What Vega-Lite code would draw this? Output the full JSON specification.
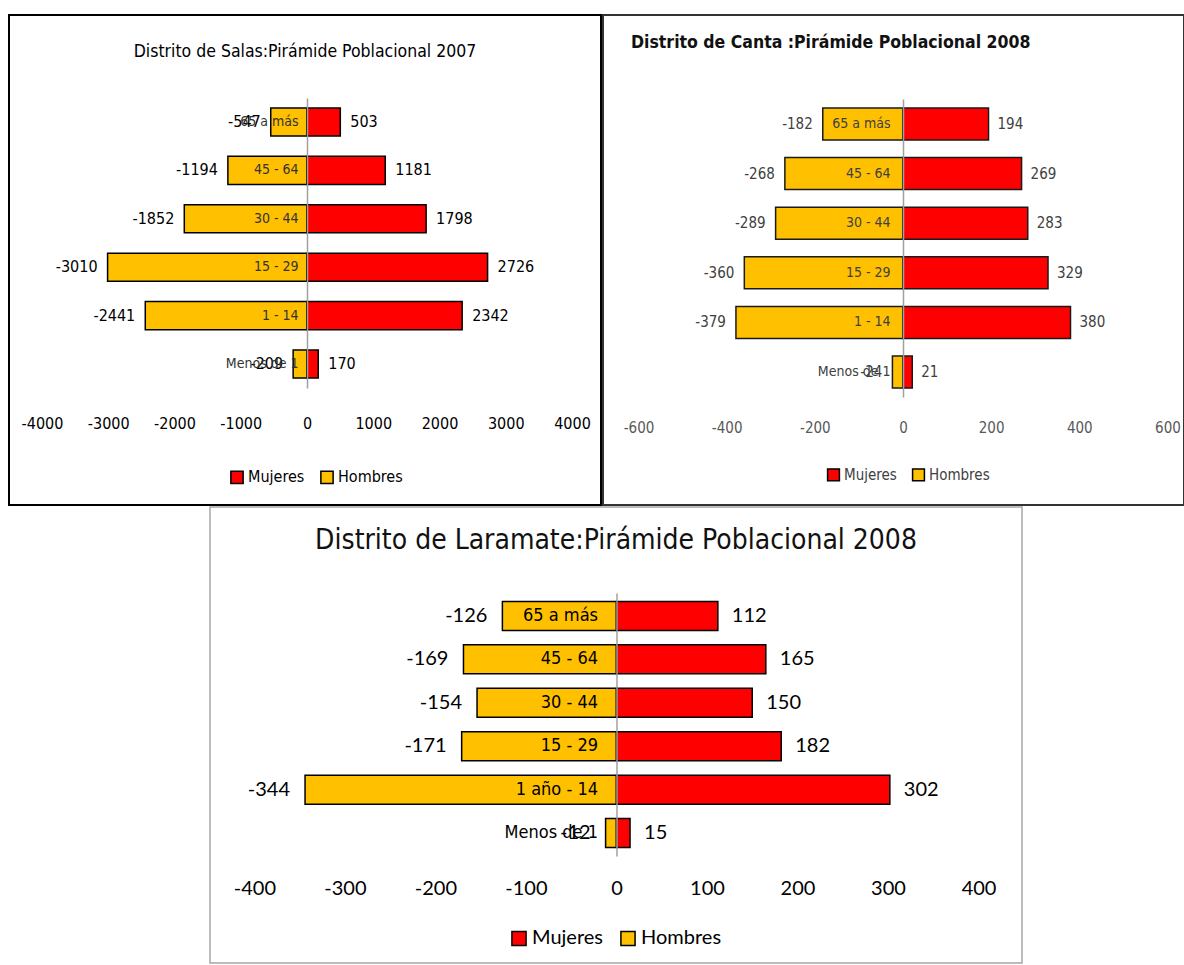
{
  "$schema": "https://vega.github.io/schema/vega-lite/v6.json",
  "padding": {"left": 8, "top": 14, "right": 0, "bottom": 0},
  "autosize": {"type": "pad"},
  "background": "white",
  "spacing": 0,
  "resolve": {"scale": {"color": "independent"}, "legend": {"color": "independent"}},
  "datasets": {
    "salas": [
      {"grupo": "65 a más", "sexo": "Hombres", "valor": -547},
      {"grupo": "65 a más", "sexo": "Mujeres", "valor": 503},
      {"grupo": "45 - 64", "sexo": "Hombres", "valor": -1194},
      {"grupo": "45 - 64", "sexo": "Mujeres", "valor": 1181},
      {"grupo": "30 - 44", "sexo": "Hombres", "valor": -1852},
      {"grupo": "30 - 44", "sexo": "Mujeres", "valor": 1798},
      {"grupo": "15 - 29", "sexo": "Hombres", "valor": -3010},
      {"grupo": "15 - 29", "sexo": "Mujeres", "valor": 2726},
      {"grupo": "1 - 14", "sexo": "Hombres", "valor": -2441},
      {"grupo": "1 - 14", "sexo": "Mujeres", "valor": 2342},
      {"grupo": "Menos de 1", "sexo": "Hombres", "valor": -209},
      {"grupo": "Menos de 1", "sexo": "Mujeres", "valor": 170}
    ],
    "canta": [
      {"grupo": "65 a más", "sexo": "Hombres", "valor": -182},
      {"grupo": "65 a más", "sexo": "Mujeres", "valor": 194},
      {"grupo": "45 - 64", "sexo": "Hombres", "valor": -268},
      {"grupo": "45 - 64", "sexo": "Mujeres", "valor": 269},
      {"grupo": "30 - 44", "sexo": "Hombres", "valor": -289},
      {"grupo": "30 - 44", "sexo": "Mujeres", "valor": 283},
      {"grupo": "15 - 29", "sexo": "Hombres", "valor": -360},
      {"grupo": "15 - 29", "sexo": "Mujeres", "valor": 329},
      {"grupo": "1 - 14", "sexo": "Hombres", "valor": -379},
      {"grupo": "1 - 14", "sexo": "Mujeres", "valor": 380},
      {"grupo": "Menos de 1", "sexo": "Hombres", "valor": -24},
      {"grupo": "Menos de 1", "sexo": "Mujeres", "valor": 21}
    ],
    "laramate": [
      {"grupo": "65 a más", "sexo": "Hombres", "valor": -126},
      {"grupo": "65 a más", "sexo": "Mujeres", "valor": 112},
      {"grupo": "45 - 64", "sexo": "Hombres", "valor": -169},
      {"grupo": "45 - 64", "sexo": "Mujeres", "valor": 165},
      {"grupo": "30 - 44", "sexo": "Hombres", "valor": -154},
      {"grupo": "30 - 44", "sexo": "Mujeres", "valor": 150},
      {"grupo": "15 - 29", "sexo": "Hombres", "valor": -171},
      {"grupo": "15 - 29", "sexo": "Mujeres", "valor": 182},
      {"grupo": "1 año - 14", "sexo": "Hombres", "valor": -344},
      {"grupo": "1 año - 14", "sexo": "Mujeres", "valor": 302},
      {"grupo": "Menos de 1", "sexo": "Hombres", "valor": -12},
      {"grupo": "Menos de 1", "sexo": "Mujeres", "valor": 15}
    ]
  },
  "vconcat": [
    {
      "spacing": 0,
      "resolve": {"scale": {"color": "independent"}, "legend": {"color": "independent"}},
      "hconcat": [
        {
          "width": 592,
          "height": 490,
          "view": {"stroke": "#000000", "strokeWidth": 2},
          "data": {"name": "salas"},
          "title": {"text": "Distrito de Salas:Pirámide Poblacional 2007", "frame": "group", "anchor": "middle", "orient": "top", "offset": -59, "baseline": "alphabetic", "font": "DejaVu Sans Condensed", "fontSize": 17.5, "fontWeight": "normal", "color": "#000000"},
          "encoding": {
            "y": {"field": "grupo", "type": "nominal", "sort": ["65 a más", "45 - 64", "30 - 44", "15 - 29", "1 - 14", "Menos de 1"],
              "scale": {"range": [83, 373], "paddingInner": 0.42, "paddingOuter": 0.205},
              "axis": {"orient": "left", "offset": -298, "title": null, "ticks": false, "grid": false, "domainColor": "#a0a0a0", "domainWidth": 1.5, "labelPadding": 9, "labelFont": "DejaVu Sans Condensed", "labelFontSize": 14, "labelColor": "#333333", "zindex": 1}},
            "x": {"field": "valor", "type": "quantitative",
              "scale": {"domain": [-4498, 4438], "nice": false, "zero": false},
              "axis": {"orient": "bottom", "offset": -82, "title": null, "domain": false, "ticks": false, "grid": false, "values": [-4000, -3000, -2000, -1000, 0, 1000, 2000, 3000, 4000], "labelExpr": "datum.value + ''", "labelBaseline": "middle", "labelPadding": 0, "labelFont": "DejaVu Sans Condensed", "labelFontSize": 16, "labelColor": "#000000", "labelOverlap": false}}
          },
          "layer": [
            {
              "mark": {"type": "bar", "stroke": "#000000", "strokeWidth": 1.5},
              "encoding": {
                "color": {"field": "sexo", "type": "nominal", "scale": {"domain": ["Mujeres", "Hombres"], "range": ["#FF0000", "#FFC000"]},
                  "legend": {"title": null, "orient": "none", "legendX": 220, "legendY": 454, "direction": "horizontal", "symbolType": "square", "symbolSize": 150, "symbolStrokeColor": "#000000", "symbolStrokeWidth": 1.5, "labelFont": "DejaVu Sans Condensed", "labelFontSize": 16, "labelColor": "#000000", "labelOffset": 3, "columnPadding": 12, "padding": 0}}
              }
            },
            {
              "transform": [{"filter": "datum.sexo === 'Hombres'"}],
              "mark": {"type": "text", "align": "right", "baseline": "middle", "dx": -10, "font": "DejaVu Sans Condensed", "fontSize": 16, "color": "#000000"},
              "encoding": {"text": {"field": "valor", "type": "nominal"}}
            },
            {
              "transform": [{"filter": "datum.sexo === 'Mujeres'"}],
              "mark": {"type": "text", "align": "left", "baseline": "middle", "dx": 10, "font": "DejaVu Sans Condensed", "fontSize": 16, "color": "#000000"},
              "encoding": {"text": {"field": "valor", "type": "nominal"}}
            }
          ]
        },
        {
          "width": 581,
          "height": 490,
          "view": {"stroke": "#333333", "strokeWidth": 2},
          "data": {"name": "canta"},
          "title": {"text": "Distrito de Canta :Pirámide Poblacional 2008", "frame": "group", "anchor": "start", "dx": 28, "orient": "top", "offset": -50, "baseline": "alphabetic", "font": "DejaVu Sans Condensed", "fontSize": 17.5, "fontWeight": "bold", "color": "#111111"},
          "encoding": {
            "y": {"field": "grupo", "type": "nominal", "sort": ["65 a más", "45 - 64", "30 - 44", "15 - 29", "1 - 14", "Menos de 1"],
              "scale": {"range": [84, 382], "paddingInner": 0.355, "paddingOuter": 0.18},
              "axis": {"orient": "left", "offset": -300, "title": null, "ticks": false, "grid": false, "domainColor": "#a0a0a0", "domainWidth": 1.5, "labelPadding": 13, "labelFont": "DejaVu Sans Condensed", "labelFontSize": 14, "labelColor": "#404040", "zindex": 1}},
            "x": {"field": "valor", "type": "quantitative",
              "scale": {"domain": [-680.6, 637.5], "nice": false, "zero": false},
              "axis": {"orient": "bottom", "offset": -78, "title": null, "domain": false, "ticks": false, "grid": false, "values": [-600, -400, -200, 0, 200, 400, 600], "labelExpr": "datum.value + ''", "labelBaseline": "middle", "labelPadding": 0, "labelFont": "DejaVu Sans Condensed", "labelFontSize": 15, "labelColor": "#595959", "labelOverlap": false}}
          },
          "layer": [
            {
              "mark": {"type": "bar", "stroke": "#1a1a1a", "strokeWidth": 1.5},
              "encoding": {
                "color": {"field": "sexo", "type": "nominal", "scale": {"domain": ["Mujeres", "Hombres"], "range": ["#FF0000", "#FFC000"]},
                  "legend": {"title": null, "orient": "none", "legendX": 223, "legendY": 452, "direction": "horizontal", "symbolType": "square", "symbolSize": 140, "symbolStrokeColor": "#000000", "symbolStrokeWidth": 1.5, "labelFont": "DejaVu Sans Condensed", "labelFontSize": 15, "labelColor": "#404040", "labelOffset": 3, "columnPadding": 12, "padding": 0}}
              }
            },
            {
              "transform": [{"filter": "datum.sexo === 'Hombres'"}],
              "mark": {"type": "text", "align": "right", "baseline": "middle", "dx": -10, "font": "DejaVu Sans Condensed", "fontSize": 15, "color": "#404040"},
              "encoding": {"text": {"field": "valor", "type": "nominal"}}
            },
            {
              "transform": [{"filter": "datum.sexo === 'Mujeres'"}],
              "mark": {"type": "text", "align": "left", "baseline": "middle", "dx": 9, "font": "DejaVu Sans Condensed", "fontSize": 15, "color": "#404040"},
              "encoding": {"text": {"field": "valor", "type": "nominal"}}
            }
          ]
        }
      ]
    },
    {
      "spacing": 20,
      "resolve": {"scale": {"color": "independent"}, "legend": {"color": "independent"}},
      "hconcat": [
        {
          "width": 180,
          "height": 10,
          "view": {"stroke": null},
          "data": {"values": []},
          "mark": "point",
          "encoding": {}
        },
        {
          "width": 812,
          "height": 456,
          "view": {"stroke": "#a6a6a6", "strokeWidth": 1.5},
          "data": {"name": "laramate"},
          "title": {"text": "Distrito de Laramate:Pirámide Poblacional 2008", "frame": "group", "anchor": "middle", "orient": "top", "offset": -70, "baseline": "alphabetic", "font": "DejaVu Sans Condensed", "fontSize": 28, "fontWeight": "normal", "color": "#111111"},
          "encoding": {
            "y": {"field": "grupo", "type": "nominal", "sort": ["65 a más", "45 - 64", "30 - 44", "15 - 29", "1 año - 14", "Menos de 1"],
              "scale": {"range": [86, 349], "paddingInner": 0.332, "paddingOuter": 0.193},
              "axis": {"orient": "left", "offset": -406.5, "title": null, "ticks": false, "grid": false, "domainColor": "#a0a0a0", "domainWidth": 1.5, "labelPadding": 19, "labelFont": "DejaVu Sans Condensed", "labelFontSize": 18, "labelColor": "#000000", "zindex": 1}},
            "x": {"field": "valor", "type": "quantitative",
              "scale": {"domain": [-449, 448], "nice": false, "zero": false},
              "axis": {"orient": "bottom", "offset": -75, "title": null, "domain": false, "ticks": false, "grid": false, "values": [-400, -300, -200, -100, 0, 100, 200, 300, 400], "labelExpr": "datum.value + ''", "labelBaseline": "middle", "labelPadding": 0, "labelFont": "Lato", "labelFontSize": 20, "labelColor": "#000000", "labelOverlap": false}}
          },
          "layer": [
            {
              "mark": {"type": "bar", "stroke": "#000000", "strokeWidth": 1.5},
              "encoding": {
                "color": {"field": "sexo", "type": "nominal", "scale": {"domain": ["Mujeres", "Hombres"], "range": ["#FF0000", "#FFC000"]},
                  "legend": {"title": null, "orient": "none", "legendX": 299, "legendY": 421, "direction": "horizontal", "symbolType": "square", "symbolSize": 200, "symbolStrokeColor": "#000000", "symbolStrokeWidth": 1.5, "labelFont": "Lato", "labelFontSize": 20, "labelColor": "#000000", "labelOffset": 3, "columnPadding": 14, "padding": 0}}
              }
            },
            {
              "transform": [{"filter": "datum.sexo === 'Hombres'"}],
              "mark": {"type": "text", "align": "right", "baseline": "middle", "dx": -15, "font": "Lato", "fontSize": 20, "color": "#000000"},
              "encoding": {"text": {"field": "valor", "type": "nominal"}}
            },
            {
              "transform": [{"filter": "datum.sexo === 'Mujeres'"}],
              "mark": {"type": "text", "align": "left", "baseline": "middle", "dx": 14, "font": "Lato", "fontSize": 20, "color": "#000000"},
              "encoding": {"text": {"field": "valor", "type": "nominal"}}
            }
          ]
        }
      ]
    }
  ],
  "config": {"view": {"stroke": null}, "concat": {"spacing": 0}}
}
